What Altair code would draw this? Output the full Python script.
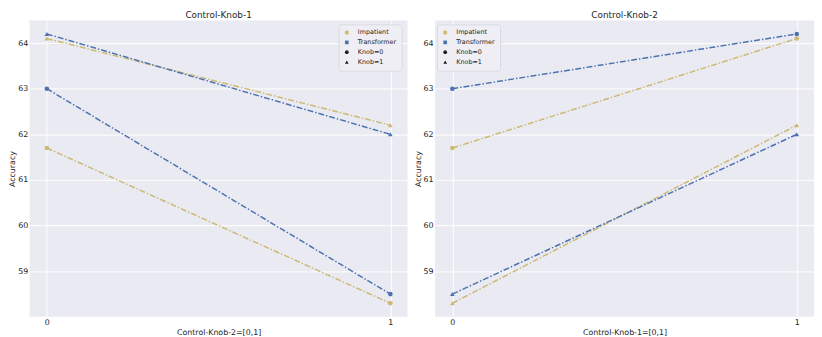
import altair as alt
import pandas as pd

# ---- data ----
models = ["Impatient", "Transformer"]
model_colors = ["#CCB974", "#4C72B0"]
knob_levels = [0, 1]
# accuracy[knob1][knob2]
impatient_acc = [[61.7, 58.3], [64.1, 62.2]]
transformer_acc = [[63.0, 58.5], [64.2, 62.0]]
y_ticks = [59, 60, 61, 62, 63, 64]
x_ticks = [0, 1]
legend_entries = ["Impatient", "Transformer", "Knob=0", "Knob=1"]
legend_colors = ["#CCB974", "#4C72B0", "#1a1a1a", "#1a1a1a"]
legend_shapes = ["square", "square", "circle", "triangle-up"]

acc = {"Impatient": impatient_acc, "Transformer": transformer_acc}

rows_left, rows_right = [], []
for m in models:
    for k1 in knob_levels:
        for k2 in knob_levels:
            v = acc[m][k1][k2]
            # left panel: x = knob2, series fixed knob1
            rows_left.append({"model": m, "x": k2, "knob": f"Knob={k1}", "acc": v})
            # right panel: x = knob1, series fixed knob2
            rows_right.append({"model": m, "x": k1, "knob": f"Knob={k2}", "acc": v})

df_left = pd.DataFrame(rows_left)
df_right = pd.DataFrame(rows_right)

FONT = "DejaVu Sans"
TXT = "#262626"

color_scale = alt.Scale(domain=legend_entries, range=legend_colors)
shape_scale = alt.Scale(domain=legend_entries, range=legend_shapes)
stroke_scale = alt.Scale(domain=models, range=model_colors)


def panel(df, title, xtitle, legend_x, width):
    x = alt.X("x:Q", scale=alt.Scale(domain=[-0.05, 1.05], nice=False),
              axis=alt.Axis(values=x_ticks, format="d", title=xtitle,
                            labelPadding=2, titlePadding=2))
    y = alt.Y("acc:Q", scale=alt.Scale(domain=[58.005, 64.495], nice=False, zero=False),
              axis=alt.Axis(values=y_ticks, format="d", title="Accuracy",
                            labelPadding=2, titlePadding=1))
    legend = alt.Legend(title=None, orient="none", legendX=legend_x, legendY=4,
                        fillColor="#EEEEF4", strokeColor="#D9D9E2", padding=5,
                        labelFont=FONT, labelFontSize=6.5, labelColor=TXT,
                        symbolSize=14, symbolStrokeWidth=0, rowPadding=3,
                        labelOffset=8, cornerRadius=2)
    lines = alt.Chart(df).mark_line(strokeWidth=1.5, strokeDash=[6, 2, 1.5, 2]).encode(
        x=x, y=y,
        stroke=alt.Stroke("model:N", scale=stroke_scale, legend=None),
        detail="knob:N",
    )
    pts = alt.Chart(df).mark_point(filled=True, size=22, opacity=1).encode(
        x=x, y=y,
        color=alt.Color("model:N", scale=color_scale, legend=legend),
        shape=alt.Shape("knob:N", scale=shape_scale, legend=legend),
    )
    return alt.layer(lines, pts).properties(
        width=width, height=301,
        title=alt.TitleParams(title, fontSize=9, font=FONT, fontWeight="normal",
                              color=TXT, offset=1),
    )


left = panel(df_left, "Control-Knob-1", "Control-Knob-2=[0,1]", 314, 384)
right = panel(df_right, "Control-Knob-2", "Control-Knob-1=[0,1]", 2, 385)

chart = alt.hconcat(left, right, spacing=6).resolve_scale(
    color="independent", shape="independent", stroke="independent"
).resolve_legend(
    color="independent", shape="independent"
).properties(
    padding=0, background="white"
).configure_view(
    fill="#EAEAF2", stroke=None
).configure_axis(
    domain=False, ticks=False, gridColor="white", gridWidth=1,
    labelFont=FONT, labelFontSize=8, labelColor=TXT,
    titleFont=FONT, titleFontSize=8, titleFontWeight="normal", titleColor=TXT,
)

chart.save("out.html", embed_options={"renderer": "svg", "actions": False})
